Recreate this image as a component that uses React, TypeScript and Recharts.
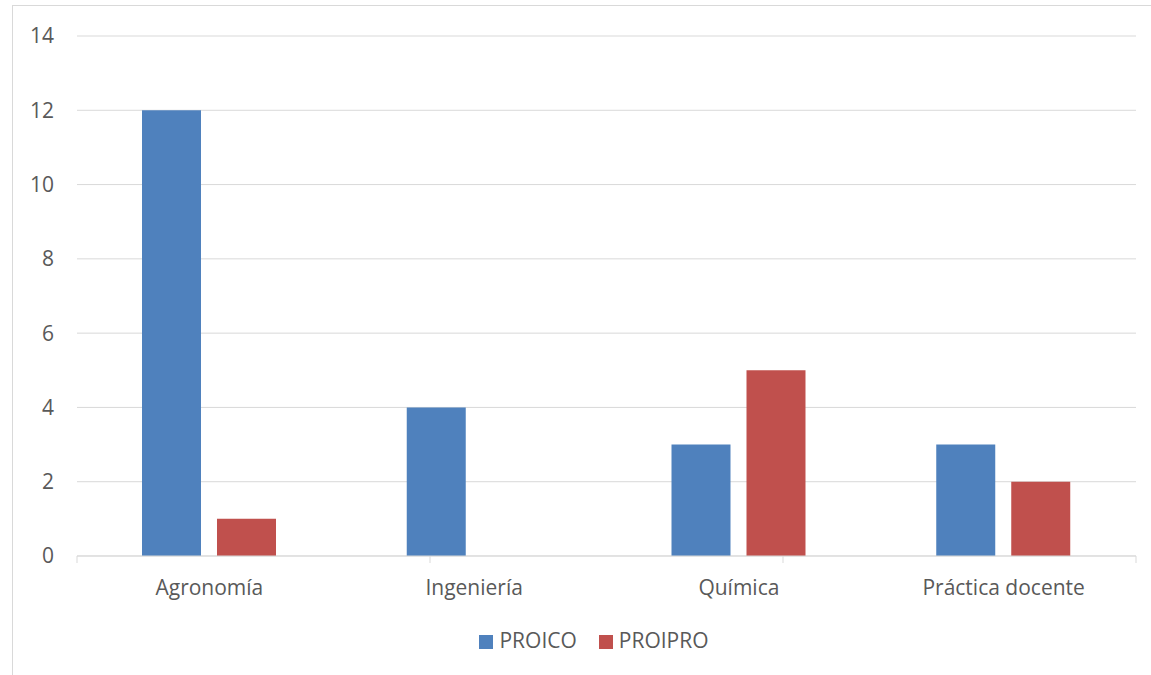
import React from 'react';
import {
  BarChart,
  Bar,
  XAxis,
  YAxis,
  CartesianGrid,
  Legend,
} from 'recharts';

const categories = ['Agronomía', 'Ingeniería', 'Química', 'Práctica docente'];
const proico = [12, 4, 3, 3];
const proipro = [1, 0, 5, 2];
const yTicks = [0, 2, 4, 6, 8, 10, 12, 14];
const separators = [0, 1, 2, 3, 4];

const data = categories.map((name, i) => ({
  name,
  PROICO: proico[i],
  PROIPRO: proipro[i],
}));

const TEXT = '#595959';
const GRID = '#d9d9d9';

export default function App() {
  return (
    <div
      style={{
        position: 'fixed',
        left: 12,
        top: 5,
        right: 0,
        bottom: 0,
        borderLeft: `1px solid ${GRID}`,
        borderTop: `1px solid ${GRID}`,
        background: '#fff',
        fontFamily: '"Open Sans", sans-serif',
        overflow: 'hidden',
      }}
    >
      <BarChart
        width={1138}
        height={669}
        data={data}
        margin={{ top: 30, right: 15, left: 0, bottom: 79 }}
        barCategoryGap="24.55%"
        barGap={16}
      >
        <CartesianGrid vertical={false} stroke={GRID} xAxisId="a_sep" />
        {/* axis line + boundary tick marks between categories */}
        <XAxis
          xAxisId="a_sep"
          type="number"
          domain={[0, 4]}
          ticks={separators}
          height={1}
          axisLine={{ stroke: GRID }}
          tickFormatter={() => ''}
          tickSize={7}
          tickLine={{ stroke: GRID }}
        />
        <XAxis
          xAxisId="b_cat"
          dataKey="name"
          height={39}
          axisLine={false}
          tickLine={false}
          tickSize={0}
          tickMargin={23}
          tick={{ fill: TEXT, fontSize: 21 }}
        />
        <YAxis
          width={64}
          domain={[0, 14]}
          ticks={yTicks}
          axisLine={false}
          tickLine={false}
          tickSize={0}
          tickMargin={23}
          tick={{ fill: TEXT, fontSize: 21 }}
        />
        <Legend
          verticalAlign="middle"
          align="center"
          iconType="square"
          iconSize={14}
          wrapperStyle={{ top: 620, left: 0, width: 1184, lineHeight: '28px', fontSize: 21 }}
          formatter={(value) => (
            <span style={{ color: TEXT, marginLeft: 2, marginRight: 12 }}>{value}</span>
          )}
        />
        <Bar dataKey="PROICO" xAxisId="b_cat" fill="#4F81BD" isAnimationActive={false} />
        <Bar dataKey="PROIPRO" xAxisId="b_cat" fill="#C0504D" isAnimationActive={false} />
      </BarChart>
    </div>
  );
}
